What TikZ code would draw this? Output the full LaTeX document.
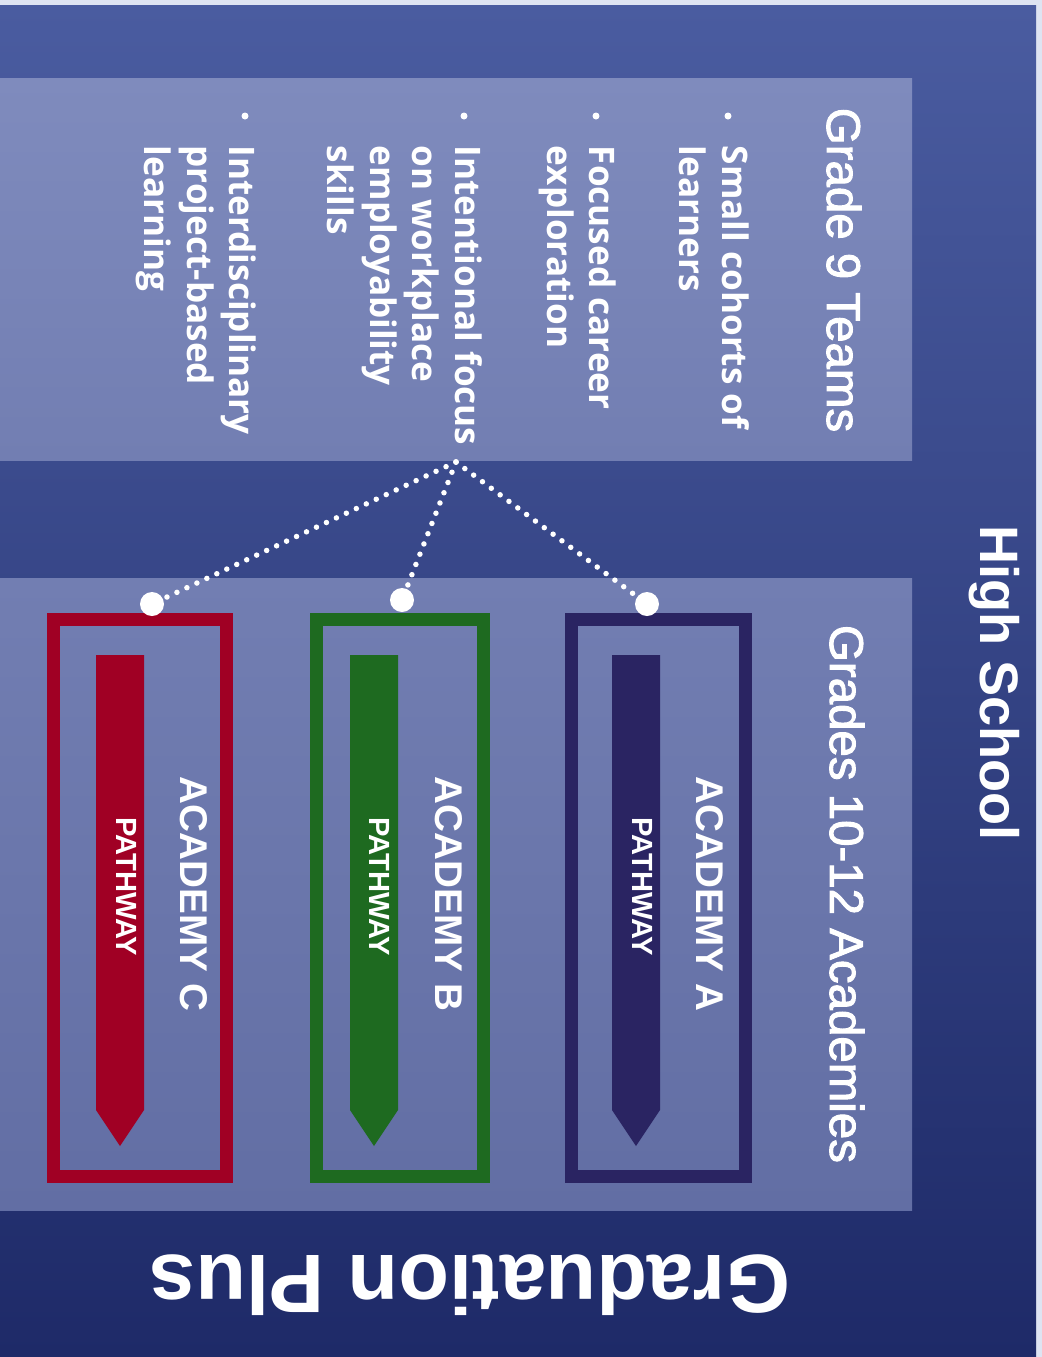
\documentclass[tikz,border=0pt]{standalone}
\usepackage{fontspec}
\setmainfont{Liberation Sans}
\newfontfamily\itemfont{Open Sans}
\newfontfamily\midfont{Liberation Sans}[FakeBold=2]
\usetikzlibrary{positioning}
\definecolor{hsbgtop}{RGB}{74,92,160}
\definecolor{hsbgbot}{RGB}{30,42,104}
\definecolor{edgeink}{RGB}{222,228,242}
\definecolor{teamtop}{RGB}{127,139,189}
\definecolor{teambot}{RGB}{114,126,178}
\definecolor{acadtop}{RGB}{114,126,178}
\definecolor{acadbot}{RGB}{98,110,164}
\definecolor{acadnavy}{RGB}{42,36,98}
\definecolor{acadgreen}{RGB}{30,106,32}
\definecolor{acadred}{RGB}{160,0,36}

\begin{document}
\begin{tikzpicture}[x=0.1mm,y=-0.1mm,
    heading/.style={text=white, inner sep=0, rotate=-90, anchor=base,
        font=\midfont\fontsize{13.5}{16}\selectfont},
    teamitem/.style={text=white, inner sep=0, rotate=-90, anchor=north west,
        align=left, font=\itemfont\bfseries\fontsize{10}{12.1}\selectfont},
    itemdot/.style={circle, fill=white, inner sep=0, minimum size=0.7mm},
    pindot/.style={circle, fill=white, inner sep=0, minimum size=2.4mm},
    acadbox/.style={draw=#1, line width=1.3mm, inner sep=0, anchor=north west},
    link/.style={white, line width=0.55mm, line cap=round,
        dash pattern=on 0pt off 1.1mm}]
    \useasboundingbox (0,0) rectangle (1042,1357);

    % Background
    \fill[edgeink] (0,0) rectangle (1042,1357);
    \shade[top color=hsbgtop, bottom color=hsbgbot] (0,5) rectangle (1036,1357);
    \node[heading, font=\bfseries\fontsize{15.4}{18}\selectfont] (highschool) at (980,683) {High School};
    \node[rotate=180, anchor=base, text=white, inner sep=0,
          font=\bfseries\fontsize{23.6}{28}\selectfont] (gradplus) at (470,1255) {Graduation Plus};

    % Grade 9 panel
    \shade[top color=teamtop, bottom color=teambot] (0,78) rectangle (912,460);
    \node[heading] (teams) at (827,270) {Grade 9 Teams};
    \node[itemdot] (dot1) at (728,116) {};
    \node[teamitem] (item1) at (750,145) {Small cohorts of\\learners};
    \node[itemdot] (dot2) at (596,116) {};
    \node[teamitem] (item2) at (617,145) {Focused career\\exploration};
    \node[itemdot] (dot3) at (464,116) {};
    \node[teamitem] (item3) at (483,145) {Intentional focus\\on workplace\\employability\\skills};
    \node[itemdot] (dot4) at (245,116) {};
    \node[teamitem] (item4) at (257,145) {Interdisciplinary\\project-based\\learning};

    % Grades 10-12 panel
    \shade[top color=acadtop, bottom color=acadbot] (0,578) rectangle (912,1210);
    \node[heading] (academies) at (830,894) {Grades 10-12 Academies};
    \coordinate (hub) at (456,462);
    \foreach \bx/\bw/\ax/\col/\nm/\dx/\dy in {565/187/612/acadnavy/A/647/604,
                                           310/180/350/acadgreen/B/402/600,
                                           47/186/96/acadred/C/152/604} {
        \node[acadbox=\col, minimum width=\bw*0.1mm-1.3mm, minimum height=55.7mm] (box\nm) at (\bx,613) {};
        \fill[\col] (\ax,655) -- (\ax+48,655) -- (\ax+48,1110) -- (\ax+24,1146) -- (\ax,1110) -- cycle;
        \node[heading, font=\bfseries\fontsize{11}{13}\selectfont] (acad\nm) at (\ax+85,894) {ACADEMY \nm};
        \node[heading, font=\bfseries\fontsize{8.3}{10}\selectfont] (path\nm) at (\ax+20,887) {PATHWAY};
        \node[pindot] (pin\nm) at (\dx,\dy) {};
        \draw[link] (hub) -- (pin\nm);
    }
\end{tikzpicture}
\end{document}
